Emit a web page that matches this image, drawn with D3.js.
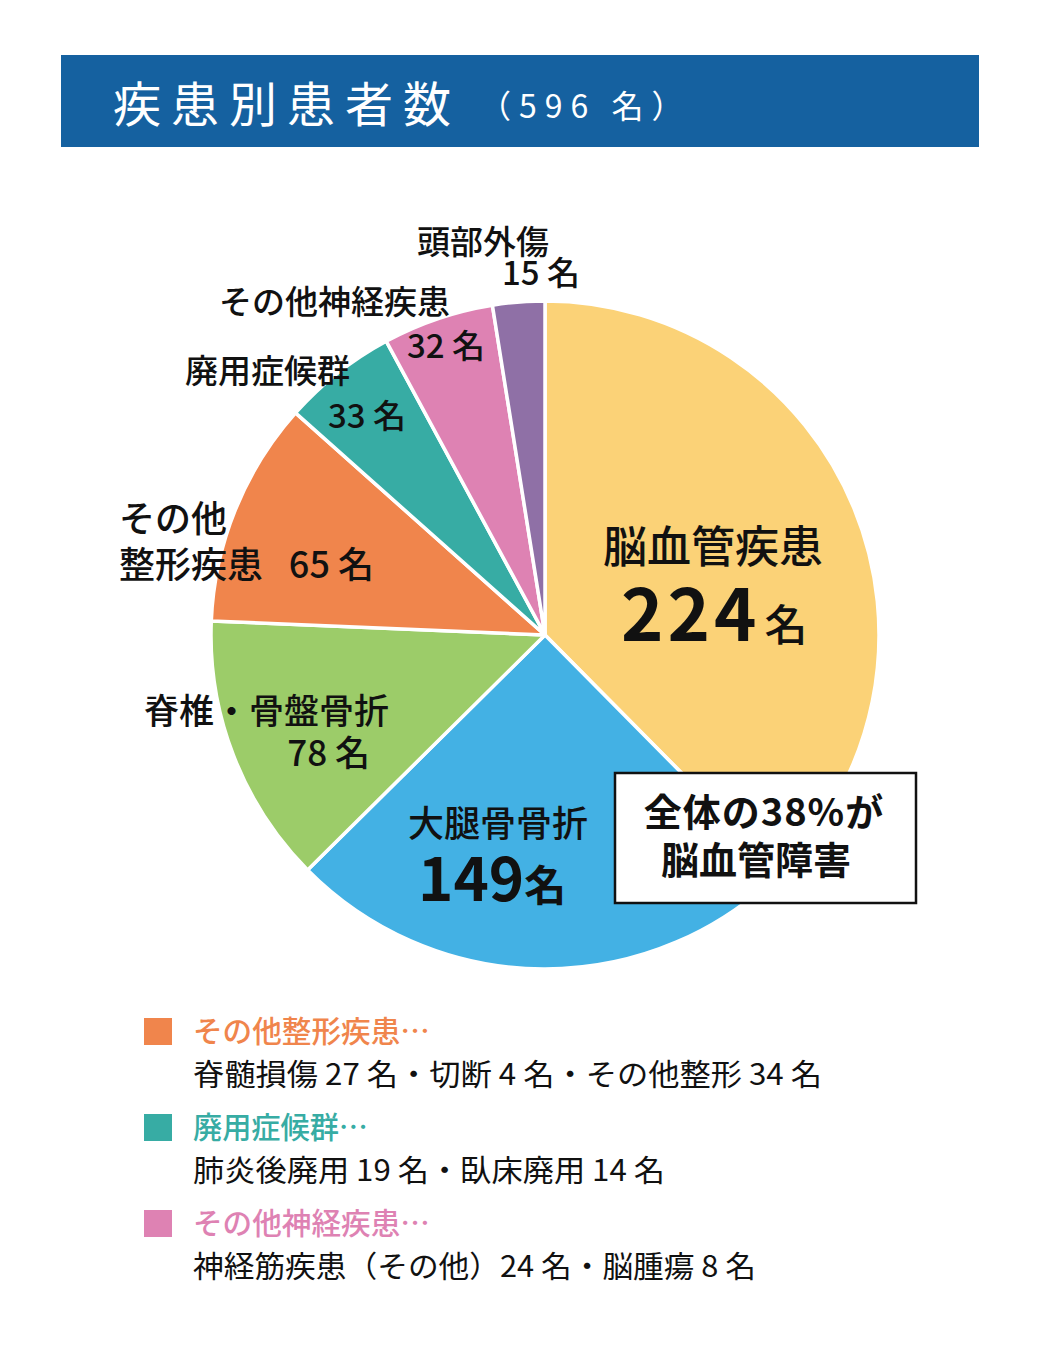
<!DOCTYPE html>
<html>
<head>
<meta charset="utf-8">
<script src="https://cdn.jsdelivr.net/npm/d3@7"></script>
<style>
  body { margin: 0; background: #fff; }
  text { font-family: "Noto Sans CJK JP", "Noto Sans", sans-serif; }
</style>
</head>
<body>
<div id="chart"></div>
<script>
// data
const categories = ['脳血管疾患', '大腿骨骨折', '脊椎・骨盤骨折', 'その他整形疾患', '廃用症候群', 'その他神経疾患', '頭部外傷'];
const values = [224, 149, 78, 65, 33, 32, 15];
const colors = ['#FBD277', '#43B1E4', '#9CCC69', '#F0854C', '#37ACA4', '#DE82B3', '#8F70A6'];

const breakdownTitles = ['その他整形疾患…', '廃用症候群…', 'その他神経疾患…'];
const breakdownColors = ['#F0854C', '#37ACA4', '#DE82B3'];
const breakdownLines = [
  '脊髄損傷 27 名・切断 4 名・その他整形 34 名',
  '肺炎後廃用 19 名・臥床廃用 14 名',
  '神経筋疾患（その他）24 名・脳腫瘍 8 名'
];

const width = 1038, height = 1361;
const cx = 545, cy = 635, radius = 334;

let svg = d3.select('#chart')
  .append('svg')
    .attr('width', width)
    .attr('height', height);

// title bar
svg.append('rect')
  .attr('x', 61).attr('y', 55)
  .attr('width', 918).attr('height', 92)
  .attr('fill', '#1561A0');

svg.append('text')
  .attr('x', 113).attr('y', 122)
  .attr('fill', '#fff')
  .attr('font-size', 48).attr('font-weight', 400)
  .attr('letter-spacing', 10)
  .text('疾患別患者数');
svg.append('text')
  .attr('x', 479).attr('y', 118)
  .attr('fill', '#fff')
  .attr('font-size', 32).attr('font-weight', 400)
  .attr('letter-spacing', 8)
  .text('（596 名）');

// pie
const total = d3.sum(values);
let pie = d3.pie().sort(null).value((d) => d);
let arc = d3.arc().innerRadius(0).outerRadius(radius);

let g = svg.append('g')
  .attr('transform', 'translate(' + cx + ',' + cy + ')');

g.selectAll('path')
  .data(pie(values))
  .enter()
  .append('path')
    .attr('d', arc)
    .attr('fill', (d, i) => colors[i])
    .attr('stroke', '#fff')
    .attr('stroke-width', 3.5)
    .attr('stroke-linejoin', 'round');

// labels, offsets from pie centre
function label(x, y, str, size, weight, anchor) {
  return g.append('text')
    .attr('x', x).attr('y', y)
    .attr('font-size', size)
    .attr('font-weight', weight || 500)
    .attr('text-anchor', anchor || 'start')
    .attr('fill', '#111')
    .text(str);
}

// 脳血管疾患
label(168, -72, categories[0], 44, 500, 'middle');
let big = g.append('text')
  .attr('x', 76).attr('y', 6)
  .attr('fill', '#111');
big.append('tspan').attr('font-size', 72).attr('font-weight', 700)
  .attr('letter-spacing', 4).text(values[0]);
big.append('tspan').attr('dx', 4).attr('font-size', 43).attr('font-weight', 500).text('名');

// 大腿骨骨折
label(-47, 202, categories[1], 36, 500, 'middle');
let b2 = g.append('text')
  .attr('x', -127).attr('y', 266)
  .attr('fill', '#111');
b2.append('tspan').attr('font-size', 60).attr('font-weight', 700).text(values[1]);
b2.append('tspan').attr('font-size', 42).attr('font-weight', 700).text('名');

// 脊椎・骨盤骨折
label(-401, 89, categories[2], 35);
label(-175, 131, values[2] + ' 名', 35, 500, 'end');

// その他整形疾患
label(-426, -103, 'その他', 36);
label(-426, -57, '整形疾患', 36);
label(-171, -57, values[3] + ' 名', 36, 500, 'end');

// 廃用症候群
label(-360, -252, categories[4], 33);
label(-139, -207, values[4] + ' 名', 33, 500, 'end');

// その他神経疾患
label(-326, -321, categories[5], 33);
label(-60, -277, values[5] + ' 名', 33, 500, 'end');

// 頭部外傷
label(-128, -381, categories[6], 33);
label(35, -350, values[6] + ' 名', 33, 500, 'end');

// callout box
const share = Math.round(values[0] / total * 100);
svg.append('rect')
  .attr('x', 615).attr('y', 773)
  .attr('width', 301).attr('height', 130)
  .attr('fill', '#fff')
  .attr('stroke', '#111')
  .attr('stroke-width', 2.5);
svg.append('text')
  .attr('x', 764).attr('y', 826)
  .attr('text-anchor', 'middle')
  .attr('font-size', 38).attr('font-weight', 700)
  .attr('letter-spacing', 1)
  .attr('fill', '#111')
  .text('全体の' + share + '%が');
svg.append('text')
  .attr('x', 756).attr('y', 874)
  .attr('text-anchor', 'middle')
  .attr('font-size', 38).attr('font-weight', 700)
  .attr('fill', '#111')
  .text('脳血管障害');

// breakdown notes
const rowY = d3.scaleLinear().domain([0, 1]).range([1042, 1138]);
const titleWidths = [237, 175, 237];
const lineWidths = [629, 472, 563];
breakdownTitles.forEach((t, i) => {
  let y = rowY(i);
  svg.append('rect')
    .attr('x', 144).attr('y', y - 24)
    .attr('width', 28).attr('height', 27)
    .attr('fill', breakdownColors[i]);
  svg.append('text')
    .attr('x', 193).attr('y', y)
    .attr('font-size', 30).attr('font-weight', 500)
    .attr('fill', breakdownColors[i])
    .attr('textLength', titleWidths[i])
    .attr('lengthAdjust', 'spacingAndGlyphs')
    .text(t);
  svg.append('text')
    .attr('x', 193).attr('y', y + 43)
    .attr('font-size', 30).attr('font-weight', 400)
    .attr('fill', '#111')
    .attr('textLength', lineWidths[i])
    .attr('lengthAdjust', 'spacingAndGlyphs')
    .text(breakdownLines[i]);
});
</script>
</body>
</html>
